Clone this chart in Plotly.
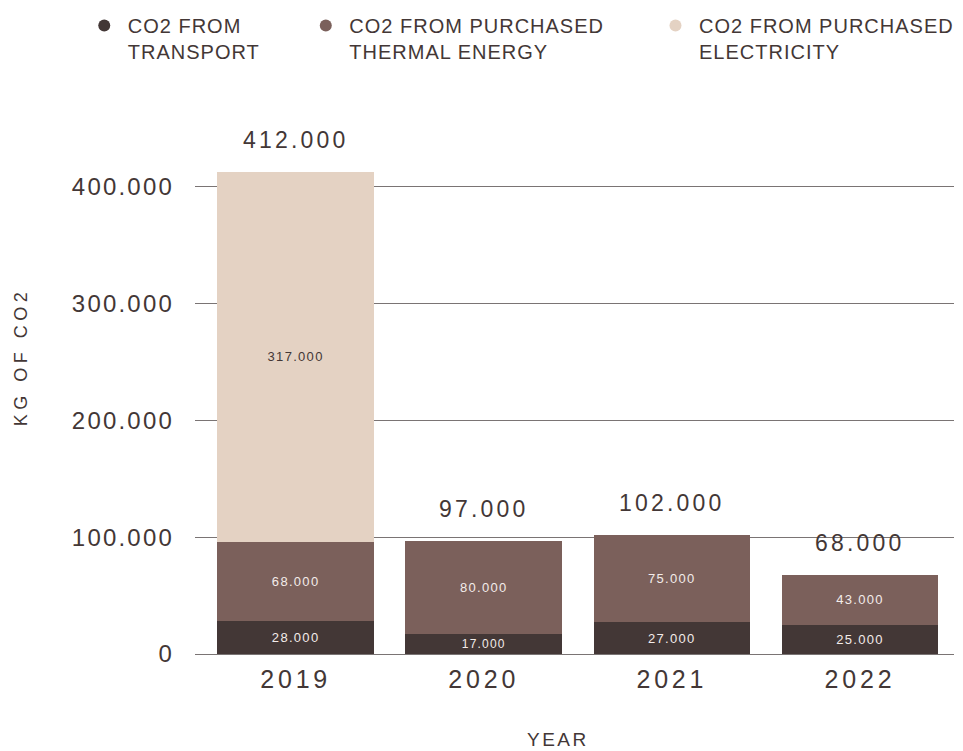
import plotly.graph_objects as go

years = ["2019", "2020", "2021", "2022"]
transport = [28000, 17000, 27000, 25000]
thermal = [68000, 80000, 75000, 43000]
electricity = [317000, 0, 0, 0]
totals = [412000, 97000, 102000, 68000]
y_ticks = [0, 100000, 200000, 300000, 400000]

series_names = ["CO2 FROM<br>TRANSPORT",
                "CO2 FROM PURCHASED<br>THERMAL ENERGY",
                "CO2 FROM PURCHASED<br>ELECTRICITY"]
colors = ["#433736", "#7b605b", "#e4d2c3"]
label_colors = ["#f3ecea", "#f3ecea", "#433736"]
legend_ids = ["legend", "legend2", "legend3"]
legend_x_px = [80, 303, 655]
text_color = "#433736"
FONT = "Liberation Sans, Arial, sans-serif"

PLOT_L, PLOT_R, PLOT_T, PLOT_B = 195, 959, 140, 654
PW, PH = PLOT_R - PLOT_L, PLOT_B - PLOT_T


def fmt(v):
    """Thousands with a dot separator, e.g. 412000 -> 412.000"""
    return f"{v:,}".replace(",", ".")


def spaced(s, px):
    return f'<span style="letter-spacing:{px}px">{s}</span>'


def px_x(x):
    return (x - PLOT_L) / PW


def px_y(y):
    return (PLOT_B - y) / PH


fig = go.Figure()

for name, vals, col, lcol, lid in zip(series_names, [transport, thermal, electricity],
                                      colors, label_colors, legend_ids):
    labels = [spaced(fmt(v), 1.3) if v else "" for v in vals]
    fig.add_trace(go.Bar(
        x=years, y=vals, marker_color=col, marker_line_width=0,
        text=labels, textposition="inside", insidetextanchor="middle",
        textfont=dict(family=FONT, size=13, color=lcol),
        showlegend=False, hoverinfo="skip",
    ))
    # circular legend entry, one legend box per series
    fig.add_trace(go.Scatter(
        x=[None], y=[None], mode="markers", name=spaced(name, 1), legend=lid,
        marker=dict(color=col, size=12, symbol="circle"),
    ))

# totals above each stack
stack_tops = [a + b + c for a, b, c in zip(transport, thermal, electricity)]
for i, (top, tot) in enumerate(zip(stack_tops, totals)):
    fig.add_annotation(
        x=i, y=top, text=spaced(fmt(tot), 3.2), showarrow=False,
        yanchor="middle", yshift=32,
        font=dict(family=FONT, size=23, color=text_color),
    )

fig.add_annotation(
    xref="paper", yref="paper", x=px_x(560), y=px_y(739),
    text=spaced("YEAR", 2.5), showarrow=False, xanchor="center", yanchor="middle",
    font=dict(family=FONT, size=19, color=text_color),
)
fig.add_annotation(
    xref="paper", yref="paper", x=px_x(20), y=px_y(357),
    text=spaced("KG OF CO2", 4.5), showarrow=False, textangle=-90,
    xanchor="center", yanchor="middle",
    font=dict(family=FONT, size=18, color=text_color),
)

legend_common = dict(
    orientation="h", yanchor="top", y=px_y(6), xanchor="left", valign="top",
    font=dict(family=FONT, size=20, color=text_color),
    itemclick=False, itemdoubleclick=False, itemwidth=37,
    bgcolor="rgba(0,0,0,0)",
)

fig.update_layout(
    width=963, height=751,
    margin=dict(l=PLOT_L, r=963 - PLOT_R, t=PLOT_T, b=751 - PLOT_B),
    barmode="stack", bargap=0.168,
    plot_bgcolor="white", paper_bgcolor="white",
    font=dict(family=FONT, color=text_color),
    legend=dict(legend_common, x=px_x(legend_x_px[0])),
    legend2=dict(legend_common, x=px_x(legend_x_px[1])),
    legend3=dict(legend_common, x=px_x(legend_x_px[2])),
    xaxis=dict(
        type="category", range=[-0.535, 3.50], showgrid=False, zeroline=False,
        showline=False, ticks="", ticklabelstandoff=8,
        tickvals=years, ticktext=[spaced(y, 3.8) for y in years],
        tickfont=dict(family=FONT, size=25, color=text_color),
    ),
    yaxis=dict(
        range=[0, 440000], tickvals=y_ticks,
        ticktext=[spaced(fmt(v), 2.2) for v in y_ticks],
        showgrid=True, gridcolor="#7a7474", gridwidth=1.2,
        zeroline=True, zerolinecolor="#7a7474", zerolinewidth=1.2,
        showline=False, ticks="", ticklabelstandoff=20,
        tickfont=dict(family=FONT, size=24, color=text_color),
    ),
)

fig.write_html("out.html")
